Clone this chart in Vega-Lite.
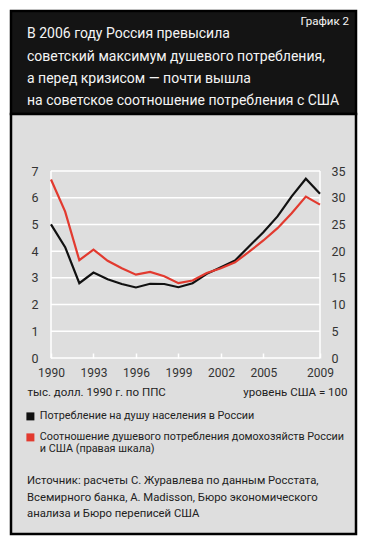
{
  "$schema": "https://vega.github.io/schema/vega-lite/v6.json",
  "background": "white",
  "padding": {"left": 9, "top": 9, "right": 0, "bottom": 0},
  "spacing": 0,
  "bounds": "flush",
  "config": {"font": "Roboto", "view": {"stroke": null}},
  "datasets": {
    "series": [
      {"year": 1990, "cons": 5.0, "ratio": 33.4},
      {"year": 1991, "cons": 4.15, "ratio": 27.4},
      {"year": 1992, "cons": 2.8, "ratio": 18.3},
      {"year": 1993, "cons": 3.2, "ratio": 20.3},
      {"year": 1994, "cons": 2.95, "ratio": 18.2},
      {"year": 1995, "cons": 2.77, "ratio": 16.8},
      {"year": 1996, "cons": 2.64, "ratio": 15.6},
      {"year": 1997, "cons": 2.78, "ratio": 16.1},
      {"year": 1998, "cons": 2.77, "ratio": 15.3},
      {"year": 1999, "cons": 2.65, "ratio": 14.0},
      {"year": 2000, "cons": 2.8, "ratio": 14.5},
      {"year": 2001, "cons": 3.15, "ratio": 15.9},
      {"year": 2002, "cons": 3.4, "ratio": 16.8},
      {"year": 2003, "cons": 3.65, "ratio": 17.9},
      {"year": 2004, "cons": 4.18, "ratio": 19.9},
      {"year": 2005, "cons": 4.71, "ratio": 22.0},
      {"year": 2006, "cons": 5.3, "ratio": 24.3},
      {"year": 2007, "cons": 6.05, "ratio": 27.1},
      {"year": 2008, "cons": 6.71, "ratio": 30.2},
      {"year": 2009, "cons": 6.15, "ratio": 28.7}
    ],
    "grid": [{"v": 0}, {"v": 1}, {"v": 2}, {"v": 3}, {"v": 4}, {"v": 5}, {"v": 6}, {"v": 7}],
    "edges": [{"year": 1990}, {"year": 2009}],
    "header": [
      {"line": 1, "text": "В 2006 году Россия превысила"},
      {"line": 2, "text": "советский максимум душевого потребления,"},
      {"line": 3, "text": "а перед кризисом — почти вышла"},
      {"line": 4, "text": "на советское соотношение потребления с США"}
    ]
  },
  "vconcat": [
    {
      "width": 345,
      "height": 103,
      "view": {"fill": "#141414", "stroke": "#000000", "strokeWidth": 2.5},
      "layer": [
        {
          "data": {"name": "header"},
          "mark": {"type": "text", "align": "left", "baseline": "middle", "fontSize": 14, "color": "#f4f4f4", "dx": 16, "dy": 1},
          "encoding": {
            "x": {"datum": 0, "type": "quantitative", "scale": {"domain": [0, 1]}, "axis": null},
            "y": {"field": "line", "type": "quantitative", "scale": {"domain": [0, 4.62], "reverse": true, "nice": false, "zero": false}, "axis": null},
            "text": {"field": "text"}
          }
        },
        {
          "data": {"values": [{"text": "График 2"}]},
          "mark": {"type": "text", "align": "right", "baseline": "middle", "fontSize": 11.5, "color": "#f4f4f4", "dx": -7},
          "encoding": {
            "x": {"datum": 1, "type": "quantitative"},
            "y": {"datum": 0.5, "type": "quantitative"},
            "text": {"field": "text"}
          }
        }
      ]
    },
    {
      "width": 345,
      "height": 420,
      "view": {"fill": "#dedede", "stroke": "#000000", "strokeWidth": 2.5},
      "title": {
        "text": ["Источник: расчеты С. Журавлева по данным Росстата,", "Всемирного банка, A. Madisson, Бюро экономического", "анализа и Бюро переписей США"],
        "orient": "bottom", "anchor": "start", "frame": "group", "offset": -59, "dx": 16,
        "fontSize": 11.3, "fontWeight": "normal", "color": "#222222", "lineHeight": 16.7
      },
      "resolve": {"scale": {"y": "independent"}},
      "layer": [
        {
          "data": {"name": "grid"},
          "mark": {"type": "rule", "color": "#ffffff", "strokeWidth": 1.5},
          "encoding": {
            "x": {"datum": 1990, "type": "quantitative", "scale": {"domain": [1990, 2009], "range": [40, 309], "zero": false, "nice": false}},
            "x2": {"datum": 2009},
            "y": {"field": "v", "type": "quantitative", "scale": {"domain": [0, 7], "range": [244, 57], "zero": false, "nice": false}, "axis": null}
          }
        },
        {
          "data": {"name": "edges"},
          "mark": {"type": "rule", "color": "#ffffff", "strokeWidth": 1.5},
          "encoding": {
            "x": {"field": "year", "type": "quantitative"},
            "y": {"datum": 0, "type": "quantitative", "scale": {"domain": [0, 7], "range": [244, 57], "zero": false, "nice": false}, "axis": null},
            "y2": {"datum": 7}
          }
        },
        {
          "data": {"name": "series"},
          "mark": {"type": "line", "strokeWidth": 2.2},
          "encoding": {
            "x": {
              "field": "year", "type": "quantitative",
              "axis": {"orient": "bottom", "offset": -176, "values": [1990, 1993, 1996, 1999, 2002, 2005, 2009], "format": "d", "title": null, "domain": false, "grid": false, "ticks": true, "tickColor": "#ffffff", "tickSize": -5, "tickWidth": 1.5, "labelFlush": false, "labelPadding": 14, "labelFontSize": 12, "labelColor": "#333333"}
            },
            "y": {
              "field": "cons", "type": "quantitative",
              "scale": {"domain": [0, 7], "range": [244, 57], "zero": false, "nice": false},
              "axis": {"orient": "left", "offset": -40, "values": [0, 1, 2, 3, 4, 5, 6, 7], "grid": false, "domain": false, "ticks": false, "tickSize": 0, "labelFlush": false, "labelPadding": 13, "labelFontSize": 12.5, "labelColor": "#333333",
                "title": "тыс. долл. 1990 г. по ППС", "titleAngle": 0, "titleAlign": "left", "titleBaseline": "middle", "titleX": -24, "titleY": 278, "titleFontWeight": "normal", "titleFontSize": 11.5, "titleColor": "#222222"}
            },
            "color": {
              "datum": "Потребление на душу населения в России",
              "scale": {"domain": ["Потребление на душу населения в России", "Соотношение душевого потребления домохозяйств России\nи США (правая шкала)"], "range": ["#111111", "#e23a2f"]},
              "legend": {"orient": "none", "legendX": 14, "legendY": 400, "title": null, "symbolType": "square", "symbolSize": 64, "labelFontSize": 10.8, "labelColor": "#222222", "labelLimit": 400, "labelOffset": 4, "rowPadding": 9, "padding": 0,
                "labelExpr": "split(datum.label, '\\n')",
                "encode": {
                  "symbols": {"update": {"fill": {"scale": "color", "field": "value"}, "strokeWidth": {"value": 0}}},
                  "labels": {"update": {"lineHeight": {"value": 12}}}
                }}
            }
          }
        },
        {
          "data": {"name": "series"},
          "mark": {"type": "line", "strokeWidth": 2.2},
          "encoding": {
            "x": {"field": "year", "type": "quantitative"},
            "y": {
              "field": "ratio", "type": "quantitative",
              "scale": {"domain": [0, 35], "range": [244, 57], "zero": false, "nice": false},
              "axis": {"orient": "right", "offset": -36, "values": [0, 5, 10, 15, 20, 25, 30, 35, -8.42, -20.59], "labelExpr": "datum.value < 0 ? '' : datum.label", "grid": true, "gridColor": "#ffffff", "gridWidth": 2, "gridOpacity": {"condition": {"test": "datum.value < 0", "value": 1}, "value": 0}, "domain": false, "ticks": false, "tickSize": 0, "labelFlush": false, "labelPadding": 11, "labelFontSize": 12.5, "labelColor": "#333333",
                "title": "уровень США = 100", "titleAngle": 0, "titleAlign": "right", "titleBaseline": "middle", "titleX": 27, "titleY": 278, "titleFontWeight": "normal", "titleFontSize": 11.5, "titleColor": "#222222"}
            },
            "color": {"datum": "Соотношение душевого потребления домохозяйств России\nи США (правая шкала)"}
          }
        }
      ]
    }
  ]
}
